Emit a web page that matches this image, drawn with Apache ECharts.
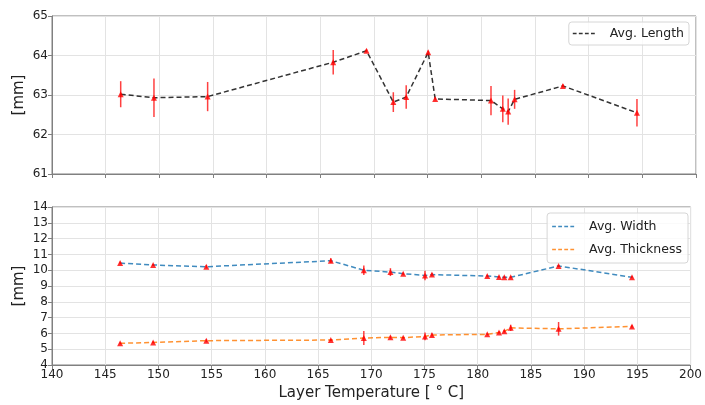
<!DOCTYPE html>
<html>
<head>
<meta charset="utf-8">
<script src="https://cdn.jsdelivr.net/npm/echarts@6/dist/echarts.min.js"></script>
<style>
  html, body { margin: 0; padding: 0; background: #fff; }
  #chart { width: 705px; height: 405px; }
</style>
</head>
<body>
<div id="chart"></div>
<script>
// data
const temps = [146.4, 149.5, 154.5, 166.2, 169.3, 171.8, 173.0, 175.05, 175.7, 180.9, 182.0, 182.5, 183.1, 187.6, 194.5]

const avgLength = [63.02, 62.93, 62.96, 63.83, 64.12, 62.82, 62.95, 64.08, 62.9, 62.86, 62.65, 62.58, 62.89, 63.23, 62.55]
const lengthErr = [0.33, 0.49, 0.37, 0.31, 0.04, 0.25, 0.3, 0.04, 0.03, 0.37, 0.34, 0.33, 0.24, 0.04, 0.35]

const avgWidth = [10.45, 10.33, 10.22, 10.6, 10.0, 9.88, 9.78, 9.67, 9.72, 9.63, 9.57, 9.55, 9.55, 10.27, 9.55]
const widthErr = [0.08, 0.06, 0.1, 0.15, 0.3, 0.25, 0.08, 0.3, 0.1, 0.08, 0.06, 0.06, 0.06, 0.06, 0.06]

const avgThick = [5.37, 5.43, 5.54, 5.58, 5.71, 5.75, 5.73, 5.81, 5.9, 5.94, 6.06, 6.13, 6.35, 6.29, 6.44]
const thickErr = [0.06, 0.06, 0.08, 0.06, 0.44, 0.08, 0.06, 0.25, 0.1, 0.06, 0.06, 0.08, 0.2, 0.43, 0.08]

const xTicks = [140, 200, 5]   // min, max, step
const topTicks = [61, 65, 1]
const bottomTicks = [4, 14, 1]

const FONT = 'DejaVu Sans'
const SPINE = '#808080'
const GRID = '#e3e3e3'
const dashIcon = 'path://M0,0h5v2h-5z M8,0h5v2h-5z M16,0h5v2h-5z M24,0h5v2h-5z'

const chart = echarts.init(document.getElementById('chart'))

function pairs(vals) {
  return temps.map((t, i) => [t, vals[i]])
}

function errData(vals, errs) {
  return temps.map((t, i) => [t, vals[i], errs[i]])
}

function renderErr(params, api) {
  const x = api.value(0)
  const y = api.value(1)
  const e = api.value(2)
  const p1 = api.coord([x, y - e])
  const p2 = api.coord([x, y + e])
  return {
    type: 'line',
    shape: { x1: p1[0], y1: p1[1], x2: p2[0], y2: p2[1] },
    style: { stroke: 'rgba(255,0,0,0.75)', lineWidth: 1.5 }
  }
}

function xAxis(idx, showLabel) {
  return {
    type: 'value',
    gridIndex: idx,
    min: xTicks[0],
    max: xTicks[1],
    interval: xTicks[2],
    axisLine: { show: true, onZero: false, lineStyle: { color: SPINE, width: 1 } },
    axisTick: { show: true, length: 4, lineStyle: { color: SPINE } },
    axisLabel: { show: showLabel, color: '#222', fontFamily: FONT, fontSize: 12, margin: 4 },
    splitLine: { show: true, lineStyle: { color: GRID, width: 1 } },
    name: showLabel ? 'Layer Temperature [ ° C]' : '',
    nameLocation: 'middle',
    nameGap: 21,
    nameMoveOverlap: false,
    nameTextStyle: { color: '#222', fontFamily: FONT, fontSize: 15 }
  }
}

function yAxis(idx, ticks) {
  return {
    type: 'value',
    gridIndex: idx,
    min: ticks[0],
    max: ticks[1],
    interval: ticks[2],
    axisLine: { show: true, lineStyle: { color: SPINE, width: 1 } },
    axisTick: { show: true, length: 4, lineStyle: { color: SPINE } },
    axisLabel: { color: '#222', fontFamily: FONT, fontSize: 12, margin: 4 },
    splitLine: { show: true, lineStyle: { color: GRID, width: 1 } },
    name: '[mm]',
    nameLocation: 'middle',
    nameGap: 25,
    nameMoveOverlap: false,
    nameTextStyle: { color: '#222', fontFamily: FONT, fontSize: 15 }
  }
}

function dashLine(name, vals, color, axis) {
  return {
    name: name,
    type: 'line',
    xAxisIndex: axis,
    yAxisIndex: axis,
    data: pairs(vals),
    showSymbol: false,
    symbol: 'none',
    itemStyle: { color: color },
    lineStyle: { color: color, width: 1.5, type: [5, 3] },
    z: 2,
    silent: true
  }
}

function errSeries(vals, errs, axis) {
  return {
    type: 'custom',
    xAxisIndex: axis,
    yAxisIndex: axis,
    data: errData(vals, errs),
    encode: { x: 0, y: 1 },
    renderItem: renderErr,
    z: 3,
    silent: true
  }
}

function markers(vals, axis) {
  return {
    type: 'scatter',
    xAxisIndex: axis,
    yAxisIndex: axis,
    data: pairs(vals),
    symbol: 'triangle',
    symbolSize: 6,
    itemStyle: { color: '#ff0000' },
    z: 4,
    silent: true
  }
}

const legendBase = {
  orient: 'vertical',
  icon: dashIcon,
  itemWidth: 22,
  itemHeight: 2,
  itemGap: 10,
  borderColor: '#d6d6d6',
  borderWidth: 1,
  borderRadius: 3,
  backgroundColor: 'rgba(255,255,255,0.8)',
  textStyle: { color: '#222', fontFamily: FONT, fontSize: 12.5, padding: [0, 0, 0, 10] }
}

chart.setOption({
  animation: false,
  backgroundColor: '#fff',
  grid: [
    { left: 52, right: 9, top: 16, height: 158, show: true, borderColor: SPINE, borderWidth: 1 },
    { left: 52, right: 9, top: 207, height: 158, show: true, borderColor: SPINE, borderWidth: 1 }
  ],
  xAxis: [xAxis(0, false), xAxis(1, true)],
  yAxis: [yAxis(0, topTicks), yAxis(1, bottomTicks)],
  legend: [
    Object.assign({}, legendBase, {
      data: ['Avg. Length'], right: 16, top: 22, padding: [5, 5, 5, 4]
    }),
    Object.assign({}, legendBase, {
      data: ['Avg. Width', 'Avg. Thickness'], right: 17, top: 213, padding: [7, 6, 7, 5]
    })
  ],
  series: [
    dashLine('Avg. Length', avgLength, 'rgba(0,0,0,0.8)', 0),
    errSeries(avgLength, lengthErr, 0),
    markers(avgLength, 0),
    dashLine('Avg. Width', avgWidth, 'rgba(31,119,180,0.85)', 1),
    errSeries(avgWidth, widthErr, 1),
    markers(avgWidth, 1),
    dashLine('Avg. Thickness', avgThick, 'rgba(255,127,14,0.85)', 1),
    errSeries(avgThick, thickErr, 1),
    markers(avgThick, 1)
  ]
})
</script>
</body>
</html>
